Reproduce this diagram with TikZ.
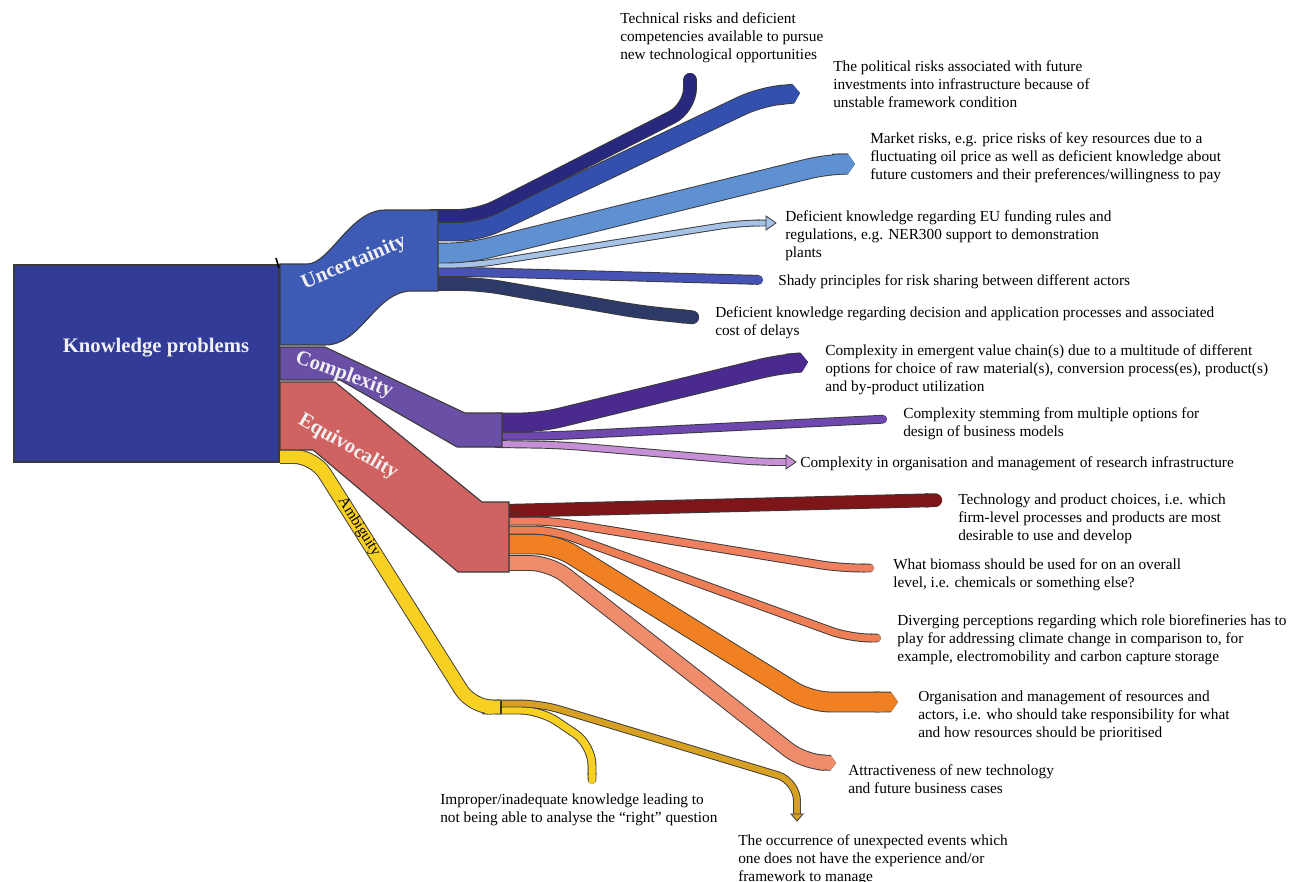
\documentclass[tikz,border=0pt]{standalone}
\usepackage{fontspec}
\setmainfont{Liberation Serif}
\usetikzlibrary{arrows.meta}
\definecolor{edge}{HTML}{3A3A3A}
\definecolor{kbox}{HTML}{323C96}
\definecolor{unc}{HTML}{3D5AB4}
\definecolor{s1}{HTML}{27287E}
\definecolor{s2}{HTML}{3450AE}
\definecolor{s3}{HTML}{5E90D2}
\definecolor{s4}{HTML}{A6C2E6}
\definecolor{s5}{HTML}{4752B5}
\definecolor{s6}{HTML}{2D3A68}
\definecolor{cpx}{HTML}{6A4FA6}
\definecolor{c1}{HTML}{4A2A8E}
\definecolor{c2}{HTML}{6E48AE}
\definecolor{c3}{HTML}{C78FD6}
\definecolor{eqv}{HTML}{D06262}
\definecolor{e1}{HTML}{7E1518}
\definecolor{e2}{HTML}{EE8060}
\definecolor{e3}{HTML}{EE7E55}
\definecolor{e4}{HTML}{F08022}
\definecolor{e5}{HTML}{EE8C6C}
\definecolor{amb}{HTML}{F8D022}
\definecolor{a1}{HTML}{D8A022}
\definecolor{a2}{HTML}{F8D022}
\newcommand\flow[4]{%
  \draw[line width={(#2)*0.75pt+1.4pt}, draw=edge, rounded corners=15pt, -{#3}] #4;
  \draw[line width={(#2)*0.75pt}, draw=#1, rounded corners=15pt, -{#3}] #4;}
\newcommand\headR[2]{\draw[draw=edge, fill=#1, line width=0.6pt, shift={#2}] (0,-7) -- (10,0) -- (0,7) -- cycle;}
\newcommand\headD[2]{\draw[draw=edge, fill=#1, line width=0.6pt, shift={#2}] (-6,0) -- (0,7) -- (6,0) -- cycle;}
\tikzset{
  chev/.tip={Triangle Cap[length=+0pt 0.35]},
  lbl/.style={anchor=north west, align=left, inner sep=0pt, font=\fontsize{11.5}{13.5}\selectfont},
  band/.style={draw=edge, line width=0.8pt},
  cat/.style={text=white!94!black, font=\fontsize{15.5}{17}\selectfont\bfseries, inner sep=0pt}
}
\begin{document}
\begin{tikzpicture}[x=0.75pt, y=-0.75pt]
\useasboundingbox (0,0) rectangle (1297,882);
\fill[white] (0,0) rectangle (1297,882);

% ---- Uncertainty flows
\flow{s6}{12}{Round Cap}{(430,284) -- (480,284) -- (640,312) -- (699,318)}
\flow{s5}{8}{Round Cap}{(430,272) -- (470,272) -- (763,280)}
\flow{s4}{5}{Butt Cap}{(430,265) -- (475,265) -- (740,223) -- (766,223)}
\headR{s4}{(766,223)}
\flow{s3}{19}{chev}{(430,253) -- (468,253) -- (828,164) -- (855,164)}
\flow{s2}{18}{chev}{(430,231.5) -- (478,231.5) -- (760,97) -- (800,93)}
\flow{s1}{12}{Round Cap}{(430,216) -- (478,216) -- (690,108) -- (690,73)}

% ---- Complexity flows
\flow{c3}{6}{Butt Cap}{(495,444) -- (560,445) -- (760,462) -- (786,462)}
\headR{c3}{(786,462)}
\flow{c2}{7}{Round Cap}{(495,436) -- (550,436) -- (887,419)}
\flow{c1}{18}{chev}{(495,422.5) -- (540,422.5) -- (780,364) -- (808,362)}

% ---- Equivocality flows
\flow{e5}{14}{chev}{(502,563) -- (550,563) -- (804,762) -- (836,763)}
\flow{e4}{19}{chev}{(502,544) -- (555,544) -- (810,702) -- (898,702)}
\flow{e3}{7}{Round Cap}{(502,530) -- (552,530) -- (850,638) -- (881,638)}
\flow{e2}{7}{Round Cap}{(502,521) -- (552,521) -- (840,568) -- (874,568)}
\flow{e1}{12}{Round Cap}{(502,511) -- (942,500)}

% ---- Ambiguity flows
\flow{a2}{7}{Round Cap}{(495,710) -- (540,710) -- (592,745) -- (592,784)}
\flow{a1}{6}{Butt Cap}{(495,703.5) -- (540,703.5) -- (797,781) -- (797,814)}
\headD{a1}{(797,814)}

% ---- category bands
\flow{amb}{13}{Butt Cap}{(280,456.5) -- (314,456.5) -- (472,707) -- (501,707)}
\draw[band] (501,700.5) -- (501,713.5);
\draw[band, fill=eqv] (280,382) -- (335,382) -- (482,502) -- (509,502) -- (509,572) -- (458,572) -- (313,450) -- (280,450) -- cycle;
\draw[band, fill=cpx] (280,347) -- (325,347) -- (465,413) -- (502,413) -- (502,447) -- (457,447) -- (340,380) -- (280,380) -- cycle;
\draw[band, fill=unc] (280,264) -- (307,264) .. controls (330,264) and (350,210) .. (385,210) -- (438,210) -- (438,291) -- (412,291) .. controls (375,291) and (362,345) .. (325,345) -- (280,345) -- cycle;

% ---- main box
\draw[band, fill=kbox] (14,265) rectangle (279,462);
\draw[line width=1.2pt, black] (276,258) -- (279,268);
\node[text=white!94!black, font=\fontsize{15.5}{17}\selectfont\bfseries, inner sep=0pt] (kp) at (156,348) {Knowledge problems};

% ---- category labels
\node[cat, rotate=23] (lu) at (354,263) {Uncertainity};
\node[cat, rotate=-20] (lc) at (344,375) {Complexity};
\node[cat, rotate=-30] (le) at (348,447) {Equivocality};
\node[rotate=-57.8, font=\fontsize{11.5}{12}\selectfont, inner sep=0pt] (la) at (359,527) {Ambiguity};

% ---- texts
\node[lbl] (t1) at (620,12) {Technical risks and deficient\\competencies available to pursue\\new technological opportunities};
\node[lbl] (t2) at (833,60) {The political risks associated with future\\investments into infrastructure because of\\unstable framework condition};
\node[lbl] (t3) at (870,132) {Market risks, e.g. price risks of key resources due to a\\fluctuating oil price as well as deficient knowledge about\\future customers and their preferences/willingness to pay};
\node[lbl] (t4) at (785,210) {Deficient knowledge regarding EU funding rules and\\regulations, e.g. NER300 support to demonstration\\plants};
\node[lbl] (t5) at (778,274) {Shady principles for risk sharing between different actors};
\node[lbl] (t6) at (715,306) {Deficient knowledge regarding decision and application processes and associated\\cost of delays};
\node[lbl] (t7) at (825,344) {Complexity in emergent value chain(s) due to a multitude of different\\options for choice of raw material(s), conversion process(es), product(s)\\and by-product utilization};
\node[lbl] (t8) at (903,407) {Complexity stemming from multiple options for\\design of business models};
\node[lbl] (t9) at (800,456) {Complexity in organisation and management of research infrastructure};
\node[lbl] (t10) at (958,494) {Technology and product choices, i.e. which\\firm-level processes and products are most\\desirable to use and develop};
\node[lbl] (t11) at (893,558) {What biomass should be used for on an overall\\level, i.e. chemicals or something else?};
\node[lbl] (t12) at (897,614) {Diverging perceptions regarding which role biorefineries has to\\play for addressing climate change in comparison to, for\\example, electromobility and carbon capture storage};
\node[lbl] (t13) at (918,690) {Organisation and management of resources and\\actors, i.e. who should take responsibility for what\\and how resources should be prioritised};
\node[lbl] (t14) at (848,764) {Attractiveness of new technology\\and future business cases};
\node[lbl] (t15) at (440,794) {Improper/inadequate knowledge leading to\\not being able to analyse the “right” question};
\node[lbl] (t16) at (738,834) {The occurrence of unexpected events which\\one does not have the experience and/or\\framework to manage};
\end{tikzpicture}
\end{document}
